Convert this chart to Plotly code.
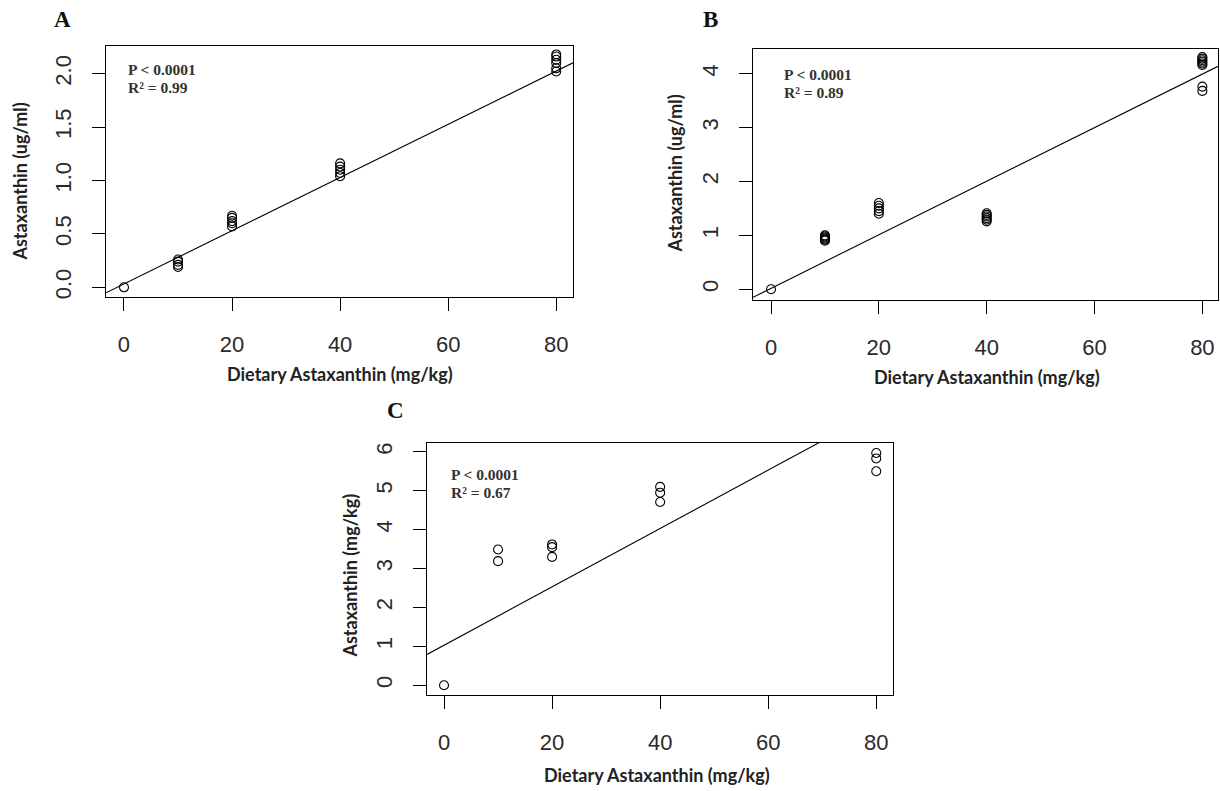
import plotly.graph_objects as go

W, H = 1220, 791

# ---------------- data ----------------
x_ticks = [0, 20, 40, 60, 80]

# Panel A : plasma astaxanthin (ug/ml)
a_dose = [0, 10, 10, 10, 10, 20, 20, 20, 20, 20, 40, 40, 40, 40, 40, 80, 80, 80, 80, 80, 80]
a_value = [0.0, 0.19, 0.21, 0.24, 0.26, 0.57, 0.60, 0.62, 0.65, 0.67,
           1.04, 1.07, 1.10, 1.13, 1.16, 2.02, 2.05, 2.10, 2.13, 2.16, 2.18]
a_fit = (0.032, 0.0249)          # intercept, slope
a_yticks = [0.0, 0.5, 1.0, 1.5, 2.0]
a_yticklabels = ["0.0", "0.5", "1.0", "1.5", "2.0"]

# Panel B : plasma astaxanthin (ug/ml)
b_dose = [0, 10, 10, 10, 10, 10, 10, 20, 20, 20, 20, 20, 40, 40, 40, 40, 40, 40,
          80, 80, 80, 80, 80, 80, 80, 80]
b_value = [0.0, 0.90, 0.92, 0.94, 0.96, 0.98, 1.00, 1.40, 1.45, 1.50, 1.55, 1.60,
           1.26, 1.29, 1.32, 1.35, 1.38, 1.41,
           4.16, 4.19, 4.22, 4.25, 4.28, 4.31, 3.68, 3.76]
b_fit = (0.016, 0.0497)
b_yticks = [0, 1, 2, 3, 4]

# Panel C : tissue astaxanthin (mg/kg)
c_dose = [0, 10, 10, 20, 20, 20, 40, 40, 40, 80, 80, 80]
c_value = [0.0, 3.49, 3.19, 3.62, 3.55, 3.30, 5.10, 4.95, 4.71, 5.97, 5.83, 5.50]
c_fit = (1.03, 0.075)
c_yticks = [0, 1, 2, 3, 4, 5, 6]

panels = [
    dict(name="A", dose=a_dose, value=a_value, fit=a_fit, yticks=a_yticks, yticklabels=a_yticklabels,
         xrange=[-3.33, 83.1], yrange=[-0.093, 2.26],
         box=(106, 573, 46, 298), ylabel="Astaxanthin (ug/ml)", ylab_pos=(20, 182),
         xlab_pos=(340, 375), title_pos=(62, 20), p_pos=(126, 70), r2="0.99"),
    dict(name="B", dose=b_dose, value=b_value, fit=b_fit, yticks=b_yticks, yticklabels=[str(v) for v in b_yticks],
         xrange=[-3.34, 82.9], yrange=[-0.204, 4.46],
         box=(753, 1218, 49, 301), ylabel="Astaxanthin (ug/ml)", ylab_pos=(675, 174),
         xlab_pos=(987, 378), title_pos=(710, 20), p_pos=(782, 75), r2="0.89"),
    dict(name="C", dose=c_dose, value=c_value, fit=c_fit, yticks=c_yticks, yticklabels=[str(v) for v in c_yticks],
         xrange=[-3.15, 83.1], yrange=[-0.256, 6.23],
         box=(427, 893, 444, 697), ylabel="Astaxanthin (mg/kg)", ylab_pos=(350, 577),
         xlab_pos=(657, 777), title_pos=(395, 412), p_pos=(449, 476), r2="0.67"),
]

fig = go.Figure()
annotations = []
tick_font = dict(family="Liberation Sans, Arial, sans-serif", size=22, color="#2a2a2a")
label_font = dict(family="Lato, Open Sans, sans-serif", size=18, color="#222222", weight="bold")
stat_font = dict(family="Liberation Serif, Times New Roman, serif", size=15.5, color="#333333", weight="bold")
title_font = dict(family="Liberation Serif, Times New Roman, serif", size=23, color="#111111", weight="bold")


def px(x):
    return x / W


def py(y):
    return 1 - y / H


for i, p in enumerate(panels):
    sfx = "" if i == 0 else str(i + 1)
    xa, ya = "x" + sfx, "y" + sfx
    # scatter points
    fig.add_trace(go.Scatter(
        x=p["dose"], y=p["value"], mode="markers", xaxis=xa, yaxis=ya,
        marker=dict(symbol="circle-open", size=9, color="black", line=dict(width=1.1, color="black")),
        showlegend=False, cliponaxis=False))
    # regression line
    x0, x1 = p["xrange"]
    b0, b1 = p["fit"]
    fig.add_trace(go.Scatter(
        x=[x0, x1], y=[b0 + b1 * x0, b0 + b1 * x1], mode="lines", xaxis=xa, yaxis=ya,
        line=dict(color="black", width=1.1), showlegend=False))

    l, r, t, b = p["box"]
    common = dict(showline=True, mirror=True, linecolor="black", linewidth=1.4,
                  ticks="outside", ticklen=13, tickwidth=1.3, tickcolor="black",
                  showgrid=False, zeroline=False, tickfont=tick_font)
    fig.update_layout(**{
        ("xaxis" + sfx): dict(domain=[px(l), px(r)], anchor=ya, range=p["xrange"],
                              tickmode="array", tickvals=x_ticks, ticktext=[str(v) for v in x_ticks],
                              ticklabelstandoff=14, **common),
        ("yaxis" + sfx): dict(domain=[py(b), py(t)], anchor=xa, range=p["yrange"],
                              tickmode="array", tickvals=p["yticks"], ticktext=p["yticklabels"],
                              tickangle=-90, ticklabelstandoff=12, **common),
    })

    # axis titles
    annotations.append(dict(text=p["ylabel"], x=px(p["ylab_pos"][0]), y=py(p["ylab_pos"][1]),
                            xref="paper", yref="paper", textangle=-90, showarrow=False,
                            xanchor="center", yanchor="middle", font=label_font))
    annotations.append(dict(text="Dietary Astaxanthin (mg/kg)", x=px(p["xlab_pos"][0]), y=py(p["xlab_pos"][1]),
                            xref="paper", yref="paper", showarrow=False,
                            xanchor="center", yanchor="middle", font=label_font))
    # panel letter
    annotations.append(dict(text=p["name"], x=px(p["title_pos"][0]), y=py(p["title_pos"][1]),
                            xref="paper", yref="paper", showarrow=False,
                            xanchor="center", yanchor="middle", font=title_font))
    # stats
    annotations.append(dict(text="P &lt; 0.0001", x=px(p["p_pos"][0]), y=py(p["p_pos"][1]),
                            xref="paper", yref="paper", showarrow=False,
                            xanchor="left", yanchor="middle", font=stat_font))
    annotations.append(dict(text="R\u00b2 = " + p["r2"], x=px(p["p_pos"][0]), y=py(p["p_pos"][1] + 17.5),
                            xref="paper", yref="paper", showarrow=False,
                            xanchor="left", yanchor="middle", font=stat_font))

fig.update_layout(width=W, height=H, margin=dict(l=0, r=0, t=0, b=0),
                  paper_bgcolor="white", plot_bgcolor="white", annotations=annotations)

fig.write_html("out.html")
